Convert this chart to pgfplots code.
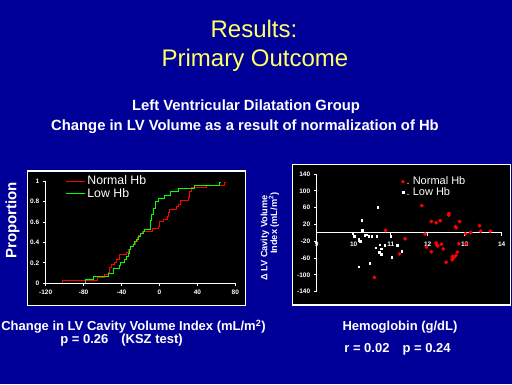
\documentclass[border=0pt]{standalone}
\usepackage{pgfplots}
\pgfplotsset{compat=1.18}
\usepackage{fontspec}
\setmainfont{Liberation Sans}
\definecolor{bg}{RGB}{0,0,153}
\definecolor{ttl}{RGB}{255,255,102}
\begin{document}
\begin{tikzpicture}[x=1pt,y=1pt]
\fill[bg] (0,0) rectangle (512,384);
\useasboundingbox (0,0) rectangle (512,384);
% titles
\node[ttl, font=\fontsize{24}{28}\selectfont, anchor=base] at (254,347) {Results:};
\node[ttl, font=\fontsize{24}{28}\selectfont, anchor=base] at (255,317.3) {Primary Outcome};
\node[white, font=\bfseries\fontsize{14.8}{16}\selectfont, anchor=base] at (246,273.3) {Left Ventricular Dilatation Group};
\node[white, font=\bfseries\fontsize{14.8}{16}\selectfont, anchor=base] at (245,253.3) {Change in LV Volume as a result of normalization of Hb};
% panels
\draw[white, line width=1.2pt, fill=black] (27.7,78.3) rectangle (245.7,213);
\draw[white, line width=1.2pt, fill=black] (292.5,79) rectangle (510.5,219.7);
% axis titles
\node[white, font=\bfseries\fontsize{15}{18}\selectfont, rotate=90] at (12.5,163.5) {Proportion};
\node[white, font=\bfseries\fontsize{9.2}{11}\selectfont, rotate=90, anchor=east] at (265,192.3) {Δ LV Cavity Volume};
\node[white, font=\bfseries\fontsize{9.2}{11}\selectfont, rotate=90, anchor=east] at (274,195) {Index (mL/m\textsuperscript{2})};
\node[white, font=\bfseries\fontsize{13}{15}\selectfont, anchor=base] at (133.5,53.3) {Change in LV Cavity Volume Index (mL/m\textsuperscript{2})};
\node[white, font=\bfseries\fontsize{13}{15}\selectfont, anchor=base] at (121.5,41) {p = 0.26\quad (KSZ test)};
\node[white, font=\bfseries\fontsize{13}{15}\selectfont, anchor=base] at (400,53.3) {Hemoglobin (g/dL)};
\node[white, font=\bfseries\fontsize{13}{15}\selectfont, anchor=base] at (397.5,31.3) {r = 0.02\quad p = 0.24};

\begin{axis}[at={(45.7pt,100.7pt)}, anchor=south west, scale only axis,
  width=189.6pt, height=102.3pt,
  xmin=-120, xmax=80, ymin=0, ymax=1,
  axis lines=left, axis line style={white, line width=0.8pt, -},
  xtick={-120,-80,-40,0,40,80}, ytick={0,0.2,0.4,0.6,0.8,1},
  tick style={white, line width=0.8pt}, tick align=outside, major tick length=3pt,
  ticklabel style={white, font=\bfseries\fontsize{6.5}{7}\selectfont},
  /pgf/number format/assume math mode=true,
  legend image code/.code={\draw[#1, line width=1.2pt] (0pt,0pt) -- (19pt,0pt);},
  legend style={at={(0.086,1.09)}, anchor=north west, draw=none, fill=none,
    text=white, font=\fontsize{12.3}{13}\selectfont, row sep=-2pt},
  legend cell align=left]
\addplot[red, line width=1pt, const plot] coordinates {
(-102.4,0) (-102.4,0.03) (-65.5,0.06) (-58.5,0.085) (-53.9,0.11) (-52.9,0.15)
(-51.1,0.18) (-47.9,0.20) (-45.8,0.23) (-42.3,0.28) (-34.6,0.30) (-32.5,0.33)
(-30.4,0.36) (-26.9,0.38) (-25.8,0.41) (-23.3,0.45) (-21.9,0.47) (-19.8,0.49)
(-17.7,0.51) (-7.2,0.54) (-1.2,0.56) (0.2,0.60) (4.1,0.62) (8.3,0.65)
(9.7,0.69) (11.1,0.72) (18.1,0.75) (20.2,0.77) (21.7,0.81) (30.4,0.84)
(31.5,0.90) (34,0.94) (49.8,0.96) (69.1,0.99) (69.6,0.99)};
\addlegendentry{Normal Hb}
\addplot[green, line width=1pt, const plot] coordinates {
(-77.5,0) (-77.5,0.035) (-69.7,0.07) (-53.9,0.10) (-48.6,0.14) (-42.3,0.17)
(-40.6,0.20) (-37,0.23) (-34.6,0.26) (-32.8,0.29) (-31.8,0.33) (-30.4,0.36)
(-27.5,0.38) (-26.1,0.41) (-24.7,0.43) (-21.9,0.46) (-19.8,0.49) (-17,0.51)
(-15.9,0.53) (-9.6,0.61) (-8.2,0.67) (-6.1,0.73) (-4.7,0.80) (-0.5,0.83)
(4.8,0.86) (11.5,0.90) (19.9,0.93) (36.8,0.96) (63.8,0.99) (64.2,0.99)};
\addlegendentry{Low Hb}
\end{axis}

\begin{axis}[at={(316.7pt,92.3pt)}, anchor=south west, scale only axis,
  width=185pt, height=117.7pt,
  xmin=9, xmax=14, ymin=-140, ymax=140,
  axis x line=middle, axis y line=left, axis line style={white, line width=0.8pt, -},
  hide obscured x ticks=false,
  xtick={9,10,11,12,13,14}, ytick={-140,-100,-60,-20,20,60,100,140},
  tick style={white, line width=0.8pt}, tick align=outside, major tick length=3pt,
  ticklabel style={white, font=\bfseries\fontsize{6.5}{7}\selectfont},
  xticklabel style={yshift=-2.5pt},
  /pgf/number format/assume math mode=true,
  clip=false,
  legend style={at={(0.44,1.01)}, anchor=north west, draw=none, fill=none,
    text=white, font=\fontsize{11}{12}\selectfont, row sep=-3pt},
  legend cell align=left]
\addplot[only marks, mark=*, mark size=1.7pt, red] coordinates {
(11.84,65) (12.57,46) (12.57,42) (10.86,6) (12.1,27) (12.23,24) (12.34,29) (12.86,27)
(12.75,15) (12.77,12) (13.4,17) (13.43,4) (13.69,4) (13.16,1) (13.02,-2)
(11.93,-3) (11.39,-14) (11.24,-50) (10.56,-106) (11.97,-34) (12.1,-45)
(12.23,-24) (12.24,-29) (12.27,-31) (12.37,-27) (12.42,-38) (12.5,-70)
(12.84,-26) (13.04,-26) (12.8,-46) (12.76,-54) (12.71,-58) (12.68,-61)
(12.66,-64) (12.67,-56)};
\addlegendentry{.\ Normal Hb}
\addplot[only marks, mark=square*, mark size=0.7pt, white] coordinates {
(10.65,61) (10.22,30) (10.23,6) (9.98,-2) (10.01,-8) (10.14,-14) (10.18,-20)
(10.13,-18) (10.3,-6) (10.35,-4) (10.41,-8) (10.48,-8) (10.62,-8) (11.0,-8)
(10.71,-28) (10.83,-29) (10.6,-36) (10.74,-38) (10.69,-46) (10.74,-51)
(11.02,-58) (11.18,-29) (10.44,-72) (10.13,-80) (11.3,-44)};
\addlegendentry{.\ Low Hb}
\end{axis}
\end{tikzpicture}
\end{document}
